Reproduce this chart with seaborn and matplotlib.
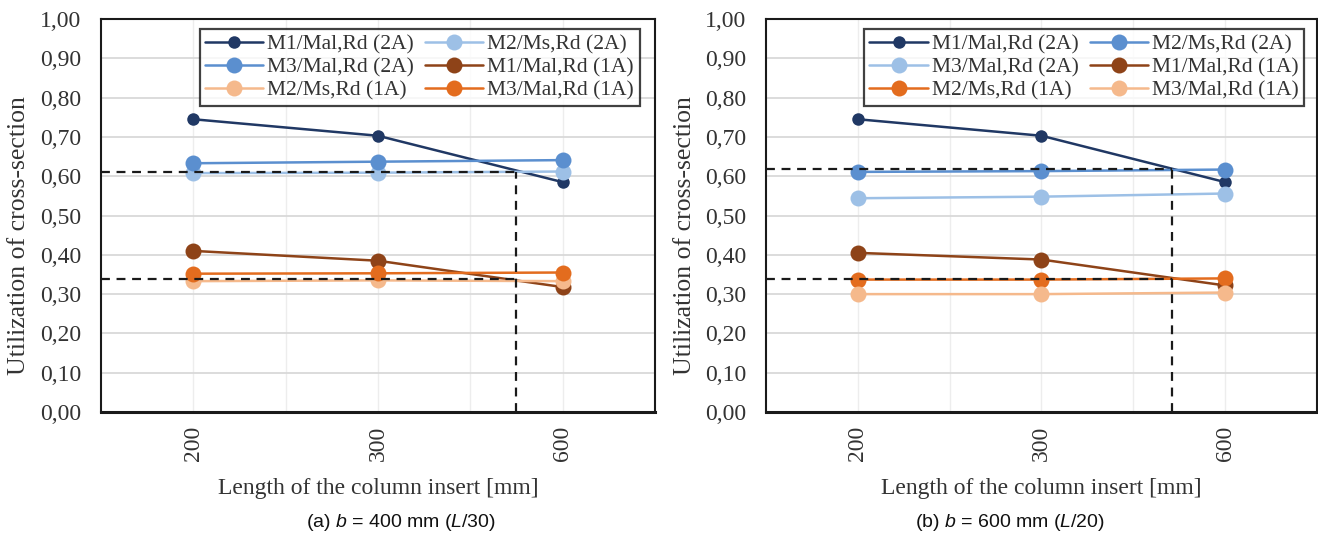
import pandas as pd
import seaborn as sns
import matplotlib.pyplot as plt
from matplotlib.ticker import FuncFormatter

# insert lengths [mm]
lengths = ["200", "300", "600"]

labels_a = ["M1/Mal,Rd (2A)", "M2/Ms,Rd (2A)", "M3/Mal,Rd (2A)",
            "M1/Mal,Rd (1A)", "M2/Ms,Rd (1A)", "M3/Mal,Rd (1A)"]
m1_2a_a = [0.745, 0.703, 0.585]
m2_2a_a = [0.608, 0.609, 0.612]
m3_2a_a = [0.633, 0.637, 0.641]
m1_1a_a = [0.410, 0.385, 0.318]
m2_1a_a = [0.333, 0.335, 0.333]
m3_1a_a = [0.352, 0.353, 0.355]

labels_b = ["M1/Mal,Rd (2A)", "M2/Ms,Rd (2A)", "M3/Mal,Rd (2A)",
            "M1/Mal,Rd (1A)", "M2/Ms,Rd (1A)", "M3/Mal,Rd (1A)"]
m1_2a_b = [0.745, 0.703, 0.585]
m2_2a_b = [0.611, 0.613, 0.617]
m3_2a_b = [0.544, 0.548, 0.556]
m1_1a_b = [0.405, 0.388, 0.322]
m2_1a_b = [0.337, 0.337, 0.340]
m3_1a_b = [0.300, 0.300, 0.304]

# dashed reference lines: utilization levels and where they cross (category units)
levels_a = [0.61, 0.338]
cross_a = 1.75
levels_b = [0.618, 0.338]
cross_b = 1.71

navy = "#203864"
mid_blue = "#5B8FCF"
light_blue = "#9DC0E6"
brown = "#8E4318"
orange = "#E36C1E"
peach = "#F5B98C"

sns.set_theme(style="white")
plt.rcParams["font.family"] = ["Liberation Serif", "DejaVu Serif"]
plt.rcParams["mathtext.fontset"] = "custom"
plt.rcParams["mathtext.rm"] = "Liberation Sans"
plt.rcParams["mathtext.it"] = "Liberation Sans:italic"


def draw_panel(ax, labels, series, colors, levels, cross):
    for lab, vals, col in zip(labels, series, colors):
        df = pd.DataFrame({"length": lengths, "util": vals})
        ms = 9 if col == navy else 11.5
        sns.lineplot(data=df, x="length", y="util", ax=ax, color=col,
                     marker="o", markersize=ms, markeredgewidth=0,
                     linewidth=1.8, label=lab, sort=False)

    for lev in levels:
        ax.plot([-0.5, cross], [lev, lev], color="#1a1a1a", ls=(0, (4, 3)), lw=1.6, zorder=5)
    ax.plot([cross, cross], [0, levels[0]], color="#1a1a1a", ls=(0, (4, 3)), lw=1.6, zorder=5)

    ax.set_xlim(-0.5, 2.5)
    ax.set_ylim(0, 1.0)
    ax.set_yticks([i / 10 for i in range(11)])
    ax.yaxis.set_major_formatter(FuncFormatter(lambda v, p: f"{v:.2f}".replace(".", ",")))
    ax.set_xticks([0, 1, 2])
    ax.set_xticks([0.5, 1.5], minor=True)
    ax.set_xticklabels(lengths, rotation=90)
    ax.yaxis.grid(True, color="#D9D9D9", lw=1.3)
    ax.xaxis.grid(True, which="both", color="#EDEDED", lw=1.0)
    ax.set_axisbelow(True)
    ax.tick_params(axis="y", length=0, labelsize=17, colors="#333333", pad=14)
    ax.tick_params(axis="x", which="both", length=0, labelsize=17, colors="#333333", pad=10)
    for s in ax.spines.values():
        s.set_visible(True)
        s.set_color("#1a1a1a")
        s.set_linewidth(1.5)
    ax.spines["bottom"].set_linewidth(2.2)

    ax.set_ylabel("Utilization of cross-section", fontsize=18.5, color="#333333")
    ax.yaxis.set_label_coords(-0.128, 0.45)
    ax.set_xlabel("Length of the column insert [mm]", fontsize=17, color="#333333", labelpad=12)

    # row-wise legend order like the original (matplotlib fills columns first)
    handles, labs = ax.get_legend_handles_labels()
    order = [0, 2, 4, 1, 3, 5]
    leg = ax.legend([handles[i] for i in order], [labs[i] for i in order],
                    ncol=2, loc="upper left", bbox_to_anchor=(0.178, 0.975),
                    fontsize=15.5, frameon=True, fancybox=False, handlelength=2.7,
                    handletextpad=0.2, columnspacing=0.5, labelspacing=0.15,
                    borderpad=0.25, borderaxespad=0)
    leg.get_frame().set_edgecolor("#111111")
    leg.get_frame().set_linewidth(1.6)
    for t in leg.get_texts():
        t.set_color("#333333")


fig = plt.figure(figsize=(13.18, 5.36), dpi=100)
ax1 = fig.add_axes([0.0766, 0.2313, 0.4203, 0.7332])
ax2 = fig.add_axes([0.5812, 0.2313, 0.4180, 0.7332])

draw_panel(ax1, labels_a, [m1_2a_a, m2_2a_a, m3_2a_a, m1_1a_a, m2_1a_a, m3_1a_a],
           [navy, light_blue, mid_blue, brown, peach, orange], levels_a, cross_a)
draw_panel(ax2, labels_b, [m1_2a_b, m2_2a_b, m3_2a_b, m1_1a_b, m2_1a_b, m3_1a_b],
           [navy, mid_blue, light_blue, brown, orange, peach], levels_b, cross_b)

fig.text(0.304, 0.026, r"(a) $b$ = 400 mm ($L$/30)", ha="center", va="center",
         fontsize=14, family="Liberation Sans", color="#111111")
fig.text(0.766, 0.026, r"(b) $b$ = 600 mm ($L$/20)", ha="center", va="center",
         fontsize=14, family="Liberation Sans", color="#111111")

fig.savefig("out.png", dpi=100)
